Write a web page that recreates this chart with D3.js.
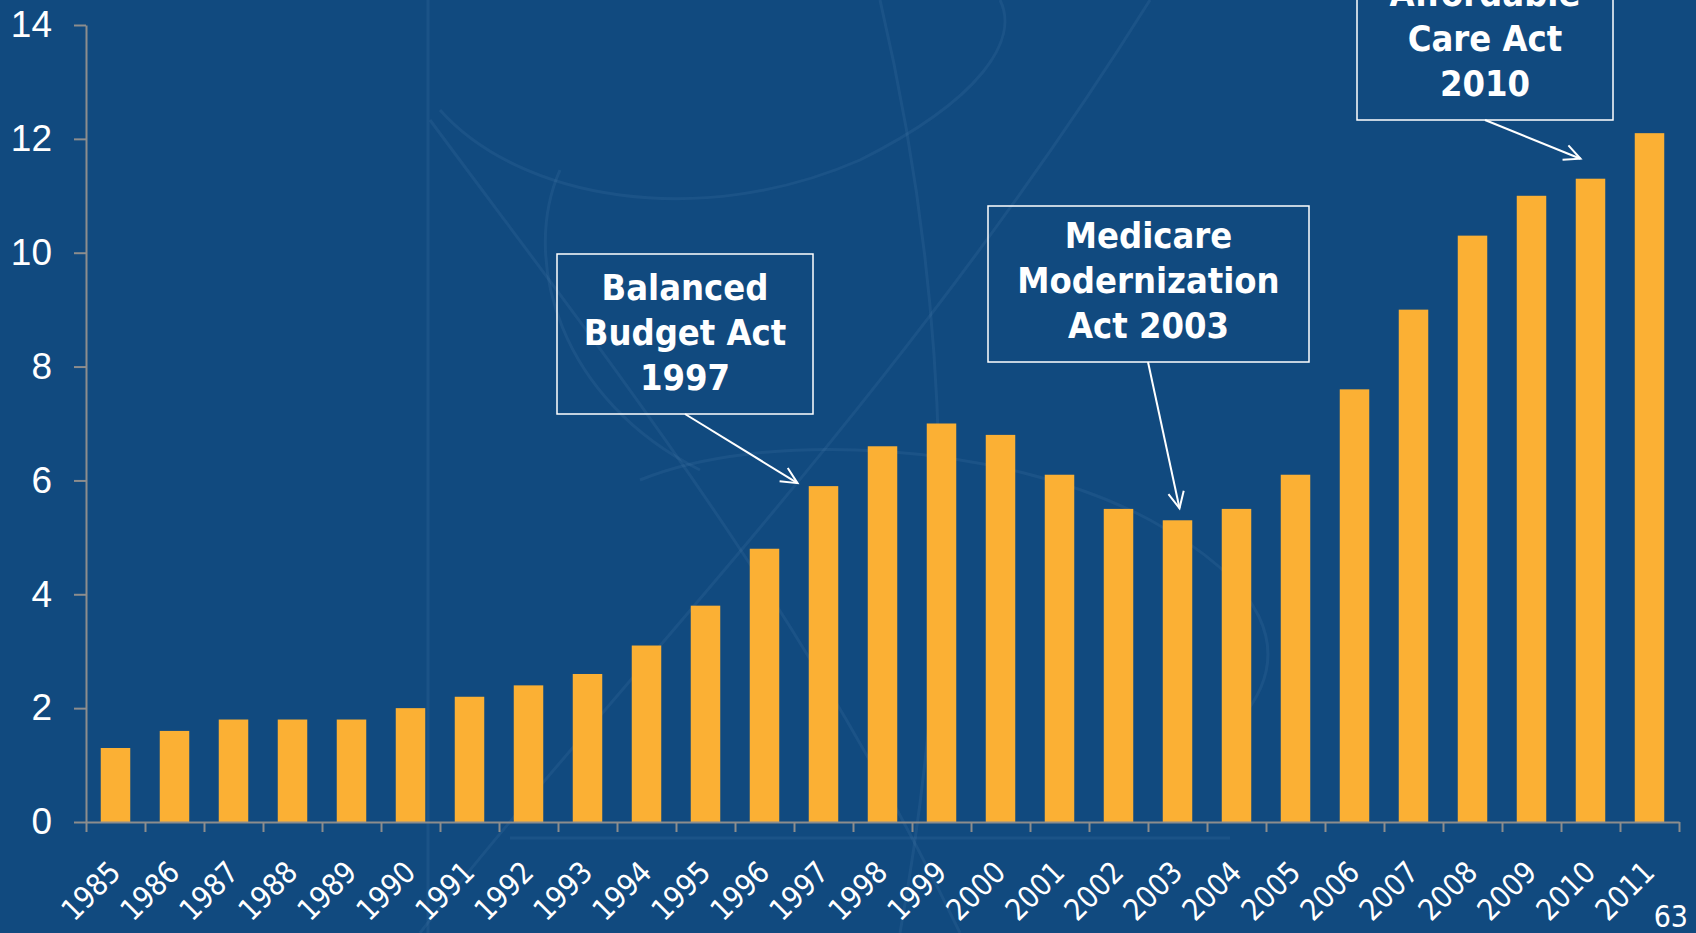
<!DOCTYPE html>
<html lang="en">
<head>
  <meta charset="UTF-8">
  <title>Medicare spending bar chart</title>
  <style>
    body { margin: 0; background: #114a7f; overflow: hidden; }
    svg { display: block; font-family: "DejaVu Sans", Verdana, sans-serif; font-stretch: condensed; }
    .axis path, .axis line { stroke: #8d8d8d; stroke-width: 2px; }
    .axis text { fill: #fff; }
    .bar { fill: #fbb034; }
    .note rect { fill: none; stroke: #fff; stroke-width: 1.5px; }
    .note text { fill: #fff; font-weight: bold; font-size: 36px; text-anchor: middle; }
    .arrow { fill: none; stroke: #fff; stroke-width: 2px; }
  </style>
</head>
<body>
  <svg id="chart" width="1696" height="933"></svg>
  <script src="https://cdn.jsdelivr.net/npm/d3@7"></script>
  <script>
    const years = d3.range(1985, 2012).map(String);
    const values = [1.3, 1.6, 1.8, 1.8, 1.8, 2.0, 2.2, 2.4, 2.6, 3.1, 3.8, 4.8, 5.9,
                    6.6, 7.0, 6.8, 6.1, 5.5, 5.3, 5.5, 6.1, 7.6, 9.0, 10.3, 11.0, 11.3, 12.1];
    const yTicks = [0, 2, 4, 6, 8, 10, 12, 14];

    const notes = [
      { lines: ["Balanced", "Budget Act", "1997"], year: "1997", box: [557, 254, 256, 160], from: [685, 414], dx: -26, dy: -3 },
      { lines: ["Medicare", "Modernization", "Act 2003"], year: "2003", box: [988, 206, 321, 156], from: [1148, 362], dx: 2, dy: -12 },
      { lines: ["Affordable", "Care Act", "2010"], year: "2010", box: [1357, -40, 256, 160], from: [1485, 120], dx: -10, dy: -20 }
    ];

    const margin = { left: 86, right: 1679, top: 25, bottom: 822 };

    const svg = d3.select("#chart");

    // faint background swirls
    const deco = svg.append("g").attr("fill", "none").attr("stroke", "#9cc0e0").attr("stroke-opacity", 0.08).attr("stroke-width", 3);
    deco.append("path").attr("d", "M440,110 C520,200 700,230 860,160 C980,100 1020,40 1000,0");
    deco.append("path").attr("d", "M560,170 C520,260 560,400 700,470");
    deco.append("path").attr("d", "M640,480 C760,430 1000,440 1150,520 C1260,580 1300,650 1240,720");
    deco.append("path").attr("d", "M430,120 C600,350 800,600 960,933");
    deco.append("path").attr("d", "M880,0 C950,300 960,600 900,933");
    deco.append("path").attr("d", "M420,933 C600,700 900,400 1150,0");
    deco.append("line").attr("x1", 428).attr("y1", 0).attr("x2", 428).attr("y2", 933);
    deco.append("line").attr("x1", 510).attr("y1", 838).attr("x2", 1230).attr("y2", 838);

    const x = d3.scaleBand().domain(years).range([margin.left, margin.right]).paddingInner(0.5).paddingOuter(0.25);
    const xEdge = d3.scaleLinear().domain([0, years.length]).range([margin.left, margin.right]);
    const y = d3.scaleLinear().domain([0, 14]).range([margin.bottom, margin.top]);

    svg.append("g")
      .attr("class", "axis")
      .attr("transform", `translate(${margin.left},0)`)
      .call(d3.axisLeft(y).tickValues(yTicks).tickSize(12).tickSizeOuter(0).tickPadding(22))
      .call(g => g.selectAll("text").style("font-size", "37px"));

    svg.selectAll(".bar")
      .data(values)
      .join("rect")
      .attr("class", "bar")
      .attr("x", (d, i) => x(years[i]))
      .attr("width", x.bandwidth())
      .attr("y", d => y(d))
      .attr("height", d => y(0) - y(d));

    svg.append("g")
      .attr("class", "axis")
      .attr("transform", `translate(0,${margin.bottom})`)
      .call(d3.axisBottom(xEdge).tickValues(d3.range(years.length + 1)).tickSize(10).tickSizeOuter(0).tickFormat(""));

    svg.append("g")
      .selectAll("text")
      .data(years)
      .join("text")
      .attr("transform", d => `translate(${x(d) + x.bandwidth() / 2 + 7},${margin.bottom + 52}) rotate(-45)`)
      .attr("text-anchor", "end")
      .attr("fill", "#fff")
      .style("font-size", "30px")
      .text(d => d);

    // annotations
    notes.forEach(n => {
      const g = svg.append("g").attr("class", "note");
      const [bx, by, bw, bh] = n.box;
      g.append("rect").attr("x", bx).attr("y", by).attr("width", bw).attr("height", bh);
      const last = by + bh - 24;
      n.lines.forEach((t, i) => {
        g.append("text").attr("x", bx + bw / 2).attr("y", last - (n.lines.length - 1 - i) * 45).text(t);
      });
      const i = years.indexOf(n.year);
      const tx = x(n.year) + x.bandwidth() / 2 + n.dx;
      const ty = y(values[i]) + n.dy;
      const [fx, fy] = n.from;
      const ang = Math.atan2(ty - fy, tx - fx);
      const len = 18, spread = Math.PI / 7;
      const p1 = [tx - len * Math.cos(ang - spread), ty - len * Math.sin(ang - spread)];
      const p2 = [tx - len * Math.cos(ang + spread), ty - len * Math.sin(ang + spread)];
      g.append("path").attr("class", "arrow").attr("d", `M${fx},${fy}L${tx},${ty}`);
      g.append("path").attr("class", "arrow").attr("d", `M${p1}L${tx},${ty}L${p2}`);
    });

    svg.append("text")
      .attr("x", 1688).attr("y", 927)
      .attr("text-anchor", "end")
      .attr("fill", "#fff")
      .style("font-size", "30px")
      .text("63");
  </script>
</body>
</html>
